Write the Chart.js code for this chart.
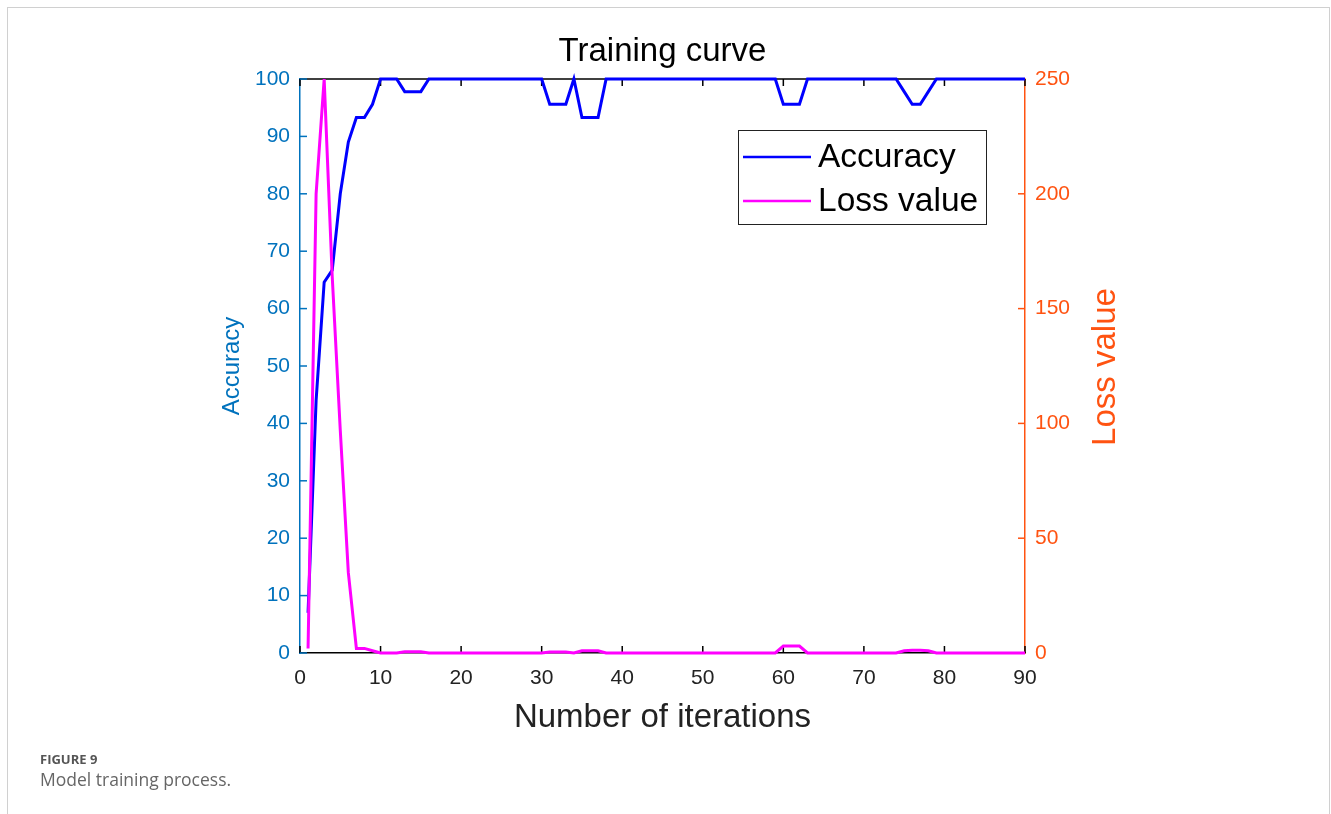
<!DOCTYPE html>
<html>
<head>
<meta charset="utf-8">
<script src="https://cdn.jsdelivr.net/npm/chart.js@4"></script>
<style>
  html, body { margin: 0; padding: 0; background: #fff; }
  #wrap { position: relative; width: 1331px; height: 814px; overflow: hidden; }
  #frame { position: absolute; left: 7px; top: 7px; width: 1323px; height: 820px;
           border: 1px solid #d0d0d0; border-bottom: none; box-sizing: border-box; }
  #box { position: absolute; left: 0; top: 0; width: 1331px; height: 814px; }
  .cap1 { position: absolute; left: 40px; top: 750px; font: bold 13px "Open Sans", sans-serif; color: #555; }
  .cap2 { position: absolute; left: 40px; top: 767px; font: 17.5px "Open Sans", sans-serif; color: #666; }
</style>
</head>
<body>
<div id="wrap">
  <div id="frame"></div>
  <div id="box"><canvas id="trainChart"></canvas></div>
  <div class="cap1">FIGURE 9</div>
  <div class="cap2">Model training process.</div>
</div>
<script>
// accuracy (%) per iteration 1..90
const accuracy = [
  7, 44, 64.6, 66.7, 80, 89, 93.3, 93.3, 95.6, 100,
  100, 100, 97.8, 97.8, 97.8, 100, 100, 100, 100, 100,
  100, 100, 100, 100, 100, 100, 100, 100, 100, 100,
  95.6, 95.6, 95.6, 100, 93.3, 93.3, 93.3, 100, 100, 100,
  100, 100, 100, 100, 100, 100, 100, 100, 100, 100,
  100, 100, 100, 100, 100, 100, 100, 100, 100, 95.6,
  95.6, 95.6, 100, 100, 100, 100, 100, 100, 100, 100,
  100, 100, 100, 100, 97.8, 95.6, 95.6, 97.8, 100, 100,
  100, 100, 100, 100, 100, 100, 100, 100, 100, 100
];
// loss value per iteration 1..90
const lossValue = [
  2, 200, 250, 164, 97, 35, 2, 2, 1, 0,
  0, 0, 0.5, 0.5, 0.5, 0, 0, 0, 0, 0,
  0, 0, 0, 0, 0, 0, 0, 0, 0, 0,
  0.4, 0.4, 0.4, 0, 1, 1, 1, 0, 0, 0,
  0, 0, 0, 0, 0, 0, 0, 0, 0, 0,
  0, 0, 0, 0, 0, 0, 0, 0, 0, 3,
  3, 3, 0, 0, 0, 0, 0, 0, 0, 0,
  0, 0, 0, 0, 1, 1.2, 1.2, 1, 0, 0,
  0, 0, 0, 0, 0, 0, 0, 0, 0, 0
];
const xTicks = [0, 10, 20, 30, 40, 50, 60, 70, 80, 90];
const accTicks = [0, 10, 20, 30, 40, 50, 60, 70, 80, 90, 100];
const lossTicks = [0, 50, 100, 150, 200, 250];

const BLUE_AX = '#0072BD';
const ORANGE_AX = '#FF5311';
const FONT = '"Liberation Sans", Arial, sans-serif';

const toPoints = arr => arr.map((v, i) => ({ x: i + 1, y: v }));

const decor = {
  id: 'decor',
  beforeDatasetsDraw(chart) {
    const { ctx, chartArea: a, scales } = chart;
    const len = 7;
    ctx.save();
    ctx.lineWidth = 1.5;
    // top box line
    ctx.strokeStyle = '#000';
    ctx.beginPath();
    ctx.moveTo(a.left, a.top); ctx.lineTo(a.right, a.top);
    ctx.stroke();
    // x ticks, inward, bottom and top
    xTicks.forEach(t => {
      const px = scales.x.getPixelForValue(t);
      ctx.beginPath();
      ctx.moveTo(px, a.bottom); ctx.lineTo(px, a.bottom - len);
      ctx.moveTo(px, a.top); ctx.lineTo(px, a.top + len);
      ctx.stroke();
    });
    ctx.strokeStyle = BLUE_AX;
    accTicks.forEach(t => {
      const py = scales.y.getPixelForValue(t);
      ctx.beginPath();
      ctx.moveTo(a.left, py); ctx.lineTo(a.left + len, py);
      ctx.stroke();
    });
    ctx.strokeStyle = ORANGE_AX;
    lossTicks.forEach(t => {
      const py = scales.y1.getPixelForValue(t);
      ctx.beginPath();
      ctx.moveTo(a.right, py); ctx.lineTo(a.right - len, py);
      ctx.stroke();
    });
    ctx.restore();
  },
  afterDraw(chart) {
    const { ctx, chartArea: a } = chart;
    const cx = (a.left + a.right) / 2;
    ctx.save();
    ctx.textAlign = 'center';
    ctx.textBaseline = 'middle';
    ctx.fillStyle = '#000';
    ctx.font = '33px ' + FONT;
    ctx.fillText('Training curve', cx, 52);
    ctx.fillStyle = '#222';
    ctx.fillText('Number of iterations', cx, 718);
    // left axis title
    ctx.save();
    ctx.translate(232, 366);
    ctx.rotate(-Math.PI / 2);
    ctx.fillStyle = BLUE_AX;
    ctx.font = '24px ' + FONT;
    ctx.fillText('Accuracy', 0, 0);
    ctx.restore();
    // right axis title
    ctx.save();
    ctx.translate(1106, 367);
    ctx.rotate(-Math.PI / 2);
    ctx.fillStyle = ORANGE_AX;
    ctx.font = '33px ' + FONT;
    ctx.fillText('Loss value', 0, 0);
    ctx.restore();
    // legend box
    const lx = 738, ly = 130, lw = 248, lh = 94;
    ctx.fillStyle = '#fff';
    ctx.fillRect(lx, ly, lw, lh);
    ctx.strokeStyle = '#222';
    ctx.lineWidth = 1;
    ctx.strokeRect(lx + 0.5, ly + 0.5, lw, lh);
    const items = chart.data.datasets;
    items.forEach((ds, i) => {
      const y = 157 + i * 44;
      ctx.strokeStyle = ds.borderColor;
      ctx.lineWidth = 2.5;
      ctx.beginPath();
      ctx.moveTo(743, y); ctx.lineTo(811, y);
      ctx.stroke();
      ctx.fillStyle = '#000';
      ctx.textAlign = 'left';
      ctx.font = '33.5px ' + FONT;
      ctx.fillText(ds.label, 818, y + 1);
    });
    ctx.restore();
  }
};

new Chart(document.getElementById('trainChart'), {
  type: 'line',
  data: {
    datasets: [
      {
        label: 'Accuracy',
        data: toPoints(accuracy),
        yAxisID: 'y',
        borderColor: '#0000FF',
        borderWidth: 3,
        pointRadius: 0,
        tension: 0,
        clip: 6,
        order: 1
      },
      {
        label: 'Loss value',
        data: toPoints(lossValue),
        yAxisID: 'y1',
        borderColor: '#FF00FF',
        borderWidth: 3,
        pointRadius: 0,
        tension: 0,
        clip: 6,
        order: 0
      }
    ]
  },
  options: {
    responsive: true,
    maintainAspectRatio: false,
    animation: false,
    layout: { padding: { top: 79, left: 0, right: 0, bottom: 0 } },
    plugins: { legend: { display: false }, tooltip: { enabled: false }, title: { display: false } },
    scales: {
      x: {
        type: 'linear', min: 0, max: 90,
        afterFit: s => { s.height = 161; },
        afterBuildTicks: s => { s.ticks = xTicks.map(v => ({ value: v })); },
        ticks: { color: '#222', font: { size: 21, family: FONT }, padding: 13, maxRotation: 0 },
        grid: { display: false, drawTicks: false },
        border: { color: '#000', width: 1.5 }
      },
      y: {
        position: 'left', min: 0, max: 100,
        afterFit: s => { s.width = 300; },
        afterBuildTicks: s => { s.ticks = accTicks.map(v => ({ value: v })); },
        ticks: { color: BLUE_AX, font: { size: 21, family: FONT }, padding: 10 },
        grid: { display: false, drawTicks: false },
        border: { color: BLUE_AX, width: 1.5 }
      },
      y1: {
        position: 'right', min: 0, max: 250,
        afterFit: s => { s.width = 306; },
        afterBuildTicks: s => { s.ticks = lossTicks.map(v => ({ value: v })); },
        ticks: { color: ORANGE_AX, font: { size: 21, family: FONT }, padding: 10 },
        grid: { display: false, drawTicks: false },
        border: { color: ORANGE_AX, width: 1.5 }
      }
    }
  },
  plugins: [decor]
});
</script>
</body>
</html>
